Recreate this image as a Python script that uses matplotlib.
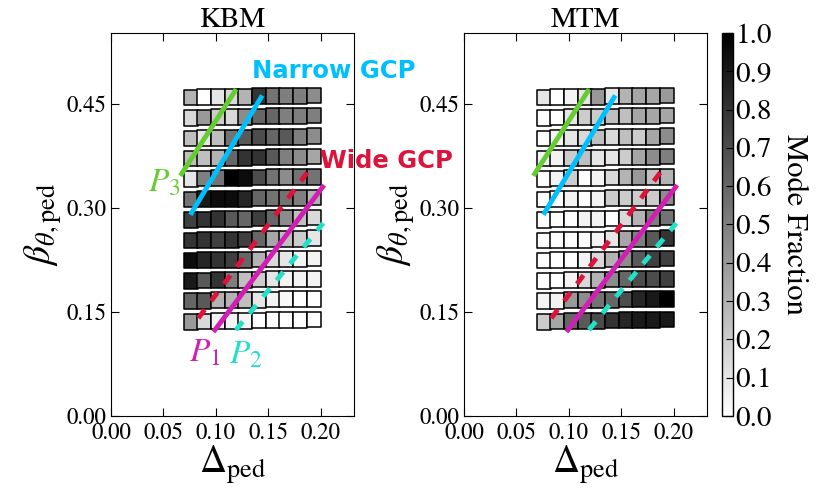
import matplotlib
matplotlib.use("Agg")
import matplotlib.pyplot as plt
import numpy as np
from matplotlib.collections import PatchCollection
from matplotlib.patches import Rectangle

plt.rcParams["font.family"] = ["STIXGeneral", "DejaVu Serif"]
plt.rcParams["mathtext.fontset"] = "stix"

# grid of (Delta_ped, beta_theta,ped) cases
delta = [0.076, 0.089, 0.102, 0.115, 0.128, 0.141, 0.154, 0.167, 0.180, 0.193]
beta = [0.459, 0.430, 0.400, 0.371, 0.342, 0.312, 0.283, 0.253, 0.224, 0.195, 0.166, 0.136]
beta_tilt = [0.0, 0.0003, 0.0006, 0.001, 0.0013, 0.0016, 0.002, 0.0023, 0.0026, 0.003]
CELL_W, CELL_H = 0.0132, 0.0228

# mode fraction, rows top -> bottom
kbm = [
    [0.30, 0.00, 0.10, 0.15, 0.30, 0.80, 0.55, 0.50, 0.50, 0.45],
    [0.15, 0.40, 0.20, 0.15, 0.45, 0.60, 0.60, 0.50, 0.50, 0.50],
    [0.25, 0.10, 0.25, 0.55, 0.65, 0.70, 0.60, 0.65, 0.50, 0.45],
    [0.25, 0.25, 0.30, 0.60, 0.80, 0.80, 0.65, 0.50, 0.45, 0.35],
    [0.10, 0.50, 0.55, 1.00, 0.95, 0.70, 0.55, 0.45, 0.55, 0.55],
    [0.55, 0.90, 0.95, 0.95, 0.85, 0.60, 0.55, 0.55, 0.50, 0.30],
    [0.75, 0.80, 0.80, 0.65, 0.60, 0.75, 0.60, 0.45, 0.25, 0.15],
    [0.80, 0.80, 0.75, 0.80, 0.75, 0.60, 0.35, 0.25, 0.20, 0.10],
    [0.95, 0.85, 0.80, 0.75, 0.60, 0.30, 0.15, 0.10, 0.05, 0.05],
    [0.90, 0.65, 0.80, 0.50, 0.25, 0.20, 0.10, 0.05, 0.05, 0.05],
    [0.60, 0.65, 0.30, 0.30, 0.25, 0.10, 0.05, 0.03, 0.00, 0.00],
    [0.40, 0.15, 0.05, 0.05, 0.05, 0.00, 0.00, 0.00, 0.00, 0.00],
]
mtm = [
    [0.10, 0.00, 0.05, 0.10, 0.40, 0.10, 0.30, 0.35, 0.35, 0.40],
    [0.00, 0.00, 0.10, 0.20, 0.20, 0.25, 0.25, 0.35, 0.35, 0.35],
    [0.00, 0.05, 0.10, 0.15, 0.25, 0.15, 0.25, 0.20, 0.35, 0.45],
    [0.05, 0.05, 0.20, 0.25, 0.10, 0.10, 0.20, 0.35, 0.45, 0.50],
    [0.00, 0.05, 0.20, 0.00, 0.05, 0.15, 0.30, 0.40, 0.25, 0.30],
    [0.00, 0.00, 0.05, 0.00, 0.05, 0.20, 0.20, 0.20, 0.20, 0.45],
    [0.00, 0.00, 0.00, 0.05, 0.05, 0.00, 0.15, 0.30, 0.50, 0.55],
    [0.00, 0.00, 0.00, 0.00, 0.05, 0.10, 0.35, 0.50, 0.65, 0.80],
    [0.00, 0.00, 0.00, 0.05, 0.15, 0.30, 0.45, 0.65, 0.75, 0.75],
    [0.00, 0.00, 0.05, 0.15, 0.30, 0.45, 0.60, 0.70, 0.70, 0.75],
    [0.05, 0.05, 0.40, 0.45, 0.55, 0.60, 0.70, 0.85, 0.90, 1.00],
    [0.20, 0.35, 0.60, 0.65, 0.70, 0.80, 0.85, 0.90, 0.90, 0.90],
]

# constraint lines: (x0, x1), (y0, y1)
p3_x, p3_y = [0.0673, 0.118], [0.349, 0.468]
narrow_x, narrow_y = [0.0768, 0.1429], [0.293, 0.459]
wide_x, wide_y = [0.0832, 0.1895], [0.141, 0.356]
p1_x, p1_y = [0.099, 0.2016], [0.124, 0.330]
p2_x, p2_y = [0.119, 0.2022], [0.124, 0.278]

GREEN = "#66cc33"
BLUE = "#00bfff"
RED = "#dc143c"
MAGENTA = "#d11fb4"
CYAN = "#22e0c8"

fig = plt.figure(figsize=(8.25, 4.96), dpi=100)
ax_k = fig.add_axes([0.1345, 0.1613, 0.2945, 0.7722])
ax_m = fig.add_axes([0.5624, 0.1613, 0.2945, 0.7722])
cax = fig.add_axes([0.875, 0.1613, 0.0133, 0.7722])

for ax, vals, title in [(ax_k, kbm, "KBM"), (ax_m, mtm, "MTM")]:
    cells = []
    colours = []
    for i, b in enumerate(beta):
        for j, d in enumerate(delta):
            yc = b + beta_tilt[j]
            cells.append(Rectangle((d - CELL_W / 2, yc - CELL_H / 2), CELL_W, CELL_H))
            colours.append(vals[i][j])
    pc = PatchCollection(cells, cmap="gray_r", edgecolor="black", linewidth=1.1, zorder=2)
    pc.set_array(np.array(colours))
    pc.set_clim(0, 1)
    ax.add_collection(pc)

    ax.plot(p3_x, p3_y, color=GREEN, lw=3.5, zorder=3)
    ax.plot(narrow_x, narrow_y, color=BLUE, lw=3.5, zorder=3)
    ax.plot(wide_x, wide_y, color=RED, lw=3.5, ls=(0, (2.2, 2.2)), zorder=3)
    ax.plot(p1_x, p1_y, color=MAGENTA, lw=3.5, zorder=3)
    ax.plot(p2_x, p2_y, color=CYAN, lw=3.5, ls=(0, (2.2, 2.2)), zorder=3)
    ax.set_xlim(0, 0.2314)
    ax.set_ylim(0, 0.552)
    ax.set_xticks([0.0, 0.05, 0.10, 0.15, 0.20])
    ax.set_yticks([0.0, 0.15, 0.30, 0.45])
    ax.xaxis.set_major_formatter(matplotlib.ticker.FormatStrFormatter("%.2f"))
    ax.yaxis.set_major_formatter(matplotlib.ticker.FormatStrFormatter("%.2f"))
    ax.tick_params(direction="in", top=True, right=True, length=6, labelsize=16.5)
    ax.tick_params(axis="x", pad=4.5)
    ax.tick_params(axis="y", pad=3)
    ax.set_title(title, fontsize=21, pad=4)
    ax.set_xlabel(r"$\Delta_{\rm ped}$", fontsize=27, labelpad=0)
    ax.set_ylabel(r"$\beta_{\theta,\rm ped}$", fontsize=27, labelpad=2)

ax_k.text(0.134, 0.497, "Narrow GCP", color=BLUE, fontsize=17.5, fontweight="bold",
          family="DejaVu Sans", va="center", ha="left")
ax_k.text(0.199, 0.368, "Wide GCP", color=RED, fontsize=17.5, fontweight="bold",
          family="DejaVu Sans", va="center", ha="left")
ax_k.text(0.0665, 0.336, r"$P_3$", color=GREEN, fontsize=24, va="center", ha="right")
ax_k.text(0.0895, 0.090, r"$P_1$", color=MAGENTA, fontsize=24, va="center", ha="center")
ax_k.text(0.1286, 0.088, r"$P_2$", color=CYAN, fontsize=24, va="center", ha="center")

cb = fig.colorbar(pc, cax=cax, ticks=np.arange(0, 1.01, 0.1))
cb.ax.set_yticklabels([f"{t:.1f}" for t in np.arange(0, 1.01, 0.1)])
cb.ax.tick_params(direction="in", length=5, labelsize=21, pad=2)
cb.outline.set_linewidth(1.0)
cb.set_label("Mode Fraction", fontsize=22, rotation=270, labelpad=26)

fig.savefig("out.png", dpi=100)
